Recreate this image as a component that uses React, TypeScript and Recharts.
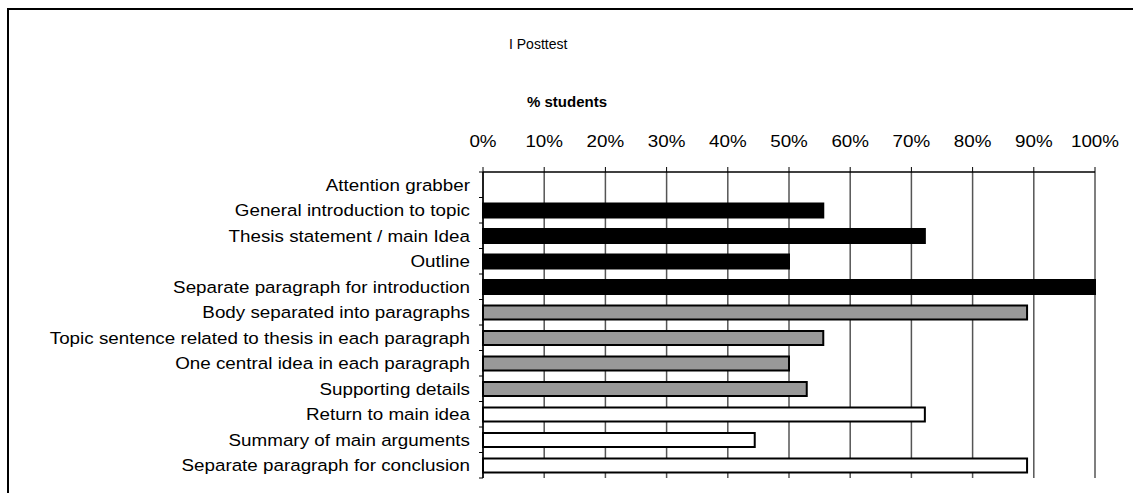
import React from "react";
import { BarChart, Bar, XAxis, YAxis, CartesianGrid, Cell } from "recharts";

const categories = [
  "Attention grabber",
  "General introduction to topic",
  "Thesis statement / main Idea",
  "Outline",
  "Separate paragraph for introduction",
  "Body separated into paragraphs",
  "Topic sentence related to thesis in each paragraph",
  "One central idea in each paragraph",
  "Supporting details",
  "Return to main idea",
  "Summary of main arguments",
  "Separate paragraph for conclusion",
];

// share of students (0..1)
const posttest = [0, 0.556, 0.722, 0.5, 1, 0.889, 0.556, 0.5, 0.529, 0.722, 0.444, 0.889];

const sections = [
  "intro", "intro", "intro", "intro", "intro",
  "body", "body", "body", "body",
  "conclusion", "conclusion", "conclusion",
];

const xTicks = [0, 0.1, 0.2, 0.3, 0.4, 0.5, 0.6, 0.7, 0.8, 0.9, 1];

const SECTION_FILL: Record<string, string> = {
  intro: "#000000",
  body: "#999999",
  conclusion: "#ffffff",
};

const data = categories.map((name, i) => ({ name, value: posttest[i], section: sections[i] }));

const FONT = "'Liberation Sans', Arial, sans-serif";
// the original text is a bit stretched sideways
const STRETCH = 1.14;

function CategoryTick(props: any) {
  const { x, y, payload, index, visibleTicksCount } = props;
  const half = payload.offset ?? 12.75;
  const axisX = x + 13;
  return (
    <g>
      <text
        transform={`translate(${x},${y}) scale(${STRETCH},1)`}
        x={0}
        y={0}
        dy={6}
        textAnchor="end"
        fontSize={16.5}
        fontFamily={FONT}
        fill="#000"
      >
        {payload.value}
      </text>
      <line x1={axisX - 4} x2={axisX} y1={y - half} y2={y - half} stroke="#000" />
      {index === visibleTicksCount - 1 && (
        <line x1={axisX - 4} x2={axisX} y1={y + half} y2={y + half} stroke="#000" />
      )}
    </g>
  );
}

function PercentTick(props: any) {
  const { x, y, payload } = props;
  return (
    <text
      transform={`translate(${x},${y}) scale(${STRETCH},1)`}
      x={0}
      y={0}
      textAnchor="middle"
      fontSize={16.5}
      fontFamily={FONT}
      fill="#000"
    >
      {`${Math.round(payload.value * 100)}%`}
    </text>
  );
}

export default function App() {
  return (
    <div
      style={{
        position: "fixed",
        left: 0,
        top: 0,
        width: 1133,
        height: 493,
        overflow: "hidden",
        background: "#fff",
        fontFamily: FONT,
      }}
    >
      <div
        style={{
          position: "absolute",
          left: 7,
          top: 8,
          width: 1200,
          height: 600,
          border: "2px solid #000",
        }}
      />
      <div style={{ position: "absolute", left: 509, top: 36, fontSize: 14, color: "#000" }}>
        I Posttest
      </div>
      <div
        style={{
          position: "absolute",
          left: 527,
          top: 93,
          fontSize: 15,
          fontWeight: "bold",
          color: "#000",
        }}
      >
        % students
      </div>
      <div style={{ position: "absolute", left: 0, top: 0 }}>
        <BarChart
          width={1133}
          height={493}
          data={data}
          layout="vertical"
          margin={{ top: 132, right: 38, bottom: 15, left: 0 }}
          barSize={14}
        >
          <CartesianGrid horizontal={false} stroke="#555" strokeWidth={1.5} />
          <XAxis
            type="number"
            orientation="top"
            domain={[0, 1]}
            ticks={xTicks}
            interval={0}
            height={40}
            tickSize={5}
            tickMargin={20}
            tick={<PercentTick />}
            axisLine={{ stroke: "#000", strokeWidth: 1.5 }}
            tickLine={{ stroke: "#000" }}
          />
          <YAxis
            type="category"
            dataKey="name"
            width={483}
            interval={0}
            tickSize={0}
            tickMargin={13}
            tick={<CategoryTick />}
            axisLine={{ stroke: "#000", strokeWidth: 1.5 }}
          />
          <Bar dataKey="value" isAnimationActive={false} stroke="#000" strokeWidth={2}>
            {data.map((d, i) => (
              <Cell key={i} fill={SECTION_FILL[d.section]} />
            ))}
          </Bar>
        </BarChart>
      </div>
    </div>
  );
}
